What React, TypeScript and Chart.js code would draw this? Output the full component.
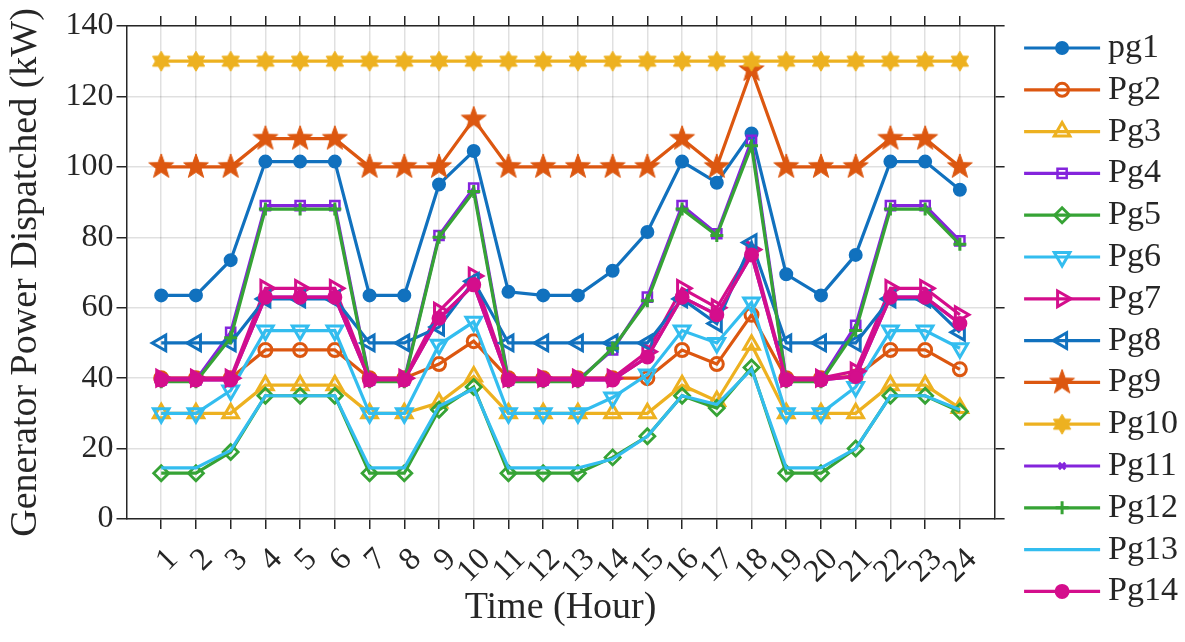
import { useEffect, useRef } from 'react';
import { Chart, registerables } from 'chart.js';
import { drawPoint } from 'chart.js/helpers';

Chart.register(...registerables);

// ---------------- data ----------------
const hours = [1, 2, 3, 4, 5, 6, 7, 8, 9, 10, 11, 12, 13, 14, 15, 16, 17, 18, 19, 20, 21, 22, 23, 24];
const yTickValues = [0, 20, 40, 60, 80, 100, 120, 140];
const seriesNames = ['pg1', 'Pg2', 'Pg3', 'Pg4', 'Pg5', 'Pg6', 'Pg7', 'Pg8', 'Pg9', 'Pg10', 'Pg11', 'Pg12', 'Pg13', 'Pg14'];

const pg1 = [63.5, 63.5, 73.5, 101.5, 101.5, 101.5, 63.5, 63.5, 95, 104.5, 64.5, 63.5, 63.5, 70.5, 81.5, 101.5, 95.5, 109.5, 69.5, 63.5, 75, 101.5, 101.5, 93.5];
const pg2 = [40, 40, 40, 48, 48, 48, 40, 40, 44, 50.5, 40, 40, 40, 40, 40, 48, 44, 58, 40, 40, 40.5, 48, 48, 42.5];
const pg3 = [30, 30, 30, 38, 38, 38, 30, 30, 33, 40.5, 30, 30, 30, 30, 30, 38, 33.5, 49.5, 30, 30, 30, 38, 38, 31.5];
const pg4 = [39.5, 39.5, 53, 89, 89, 89, 39.5, 39.5, 80.5, 94, 39.5, 39.5, 39.5, 48, 63, 89, 81, 107.5, 39.5, 39.5, 55, 89, 89, 79];
const pg5 = [13, 13, 19, 35, 35, 35, 13, 13, 31, 37.5, 13, 13, 13, 17.5, 23.5, 35, 31.5, 43, 13, 13, 20, 35, 35, 30.5];
const pg6 = [30, 30, 36.5, 53.5, 53.5, 53.5, 30, 30, 49.5, 56, 30, 30, 30, 34.5, 41, 53.5, 50, 61.5, 30, 30, 37.5, 53.5, 53.5, 48.5];
const pg7 = [40, 40, 40, 65.5, 65.5, 65.5, 40, 40, 59, 69, 40, 40, 40, 40, 47.5, 65.5, 60, 76.5, 40, 40, 42, 65.5, 65.5, 58];
const pg8 = [50, 50, 50, 62.5, 62.5, 62.5, 50, 50, 54.5, 67.5, 50, 50, 50, 50, 50, 62.5, 55.5, 78.5, 50, 50, 50, 62.5, 62.5, 53];
const pg9 = [100, 100, 100, 108, 108, 108, 100, 100, 100, 113.5, 100, 100, 100, 100, 100, 108, 100, 127.5, 100, 100, 100, 108, 108, 100];
const pg10 = [130, 130, 130, 130, 130, 130, 130, 130, 130, 130, 130, 130, 130, 130, 130, 130, 130, 130, 130, 130, 130, 130, 130, 130];
const pg11 = [39.5, 39.5, 39.5, 63, 63, 63, 39.5, 39.5, 57, 66.5, 39.5, 39.5, 39.5, 39.5, 46, 63, 58, 75, 39.5, 39.5, 40.5, 63, 63, 55.5];
const pg12 = [39, 39, 51.5, 88, 88, 88, 39, 39, 80, 93, 39, 39, 39, 48.5, 62, 88, 80.5, 106, 39, 39, 53.5, 88, 88, 78];
const pg13 = [14.5, 14.5, 19.5, 35, 35, 35, 14.5, 14.5, 32, 37, 14.5, 14.5, 14.5, 17, 23.5, 35, 32.5, 42.5, 14.5, 14.5, 20, 35, 35, 31];
const pg14 = [39.5, 39.5, 39.5, 63, 63, 63, 39.5, 39.5, 57, 66.5, 39.5, 39.5, 39.5, 39.5, 46, 63, 58, 75, 39.5, 39.5, 40.5, 63, 63, 55.5];

const seriesValues = [pg1, pg2, pg3, pg4, pg5, pg6, pg7, pg8, pg9, pg10, pg11, pg12, pg13, pg14];

// ---------------- styles ----------------
const FONT = "'Liberation Serif', 'Times New Roman', serif";
const INK = '#262626';
const GRID = 'rgba(0,0,0,0.12)';
const BLUE = '#1171BE';
const ORANGE = '#DC5710';
const YELLOW = '#EDB120';
const PURPLE = '#8424DC';
const GREEN = '#36A335';
const LBLUE = '#33BDEF';
const MAGENTA = '#D40E8C';
const NONE = 'rgba(0,0,0,0)';
const LINE_W = 3.2;

const LEG_FONT = 34;
const LEG_BOX = 78.7;

function makeStar(color: string, n: number, rOuter: number, rInner: number) {
  const pad = 2;
  const size = Math.ceil(2 * rOuter + 2 * pad);
  const c = document.createElement('canvas');
  c.width = size;
  c.height = size;
  const ctx = c.getContext('2d')!;
  ctx.translate(size / 2, size / 2);
  ctx.beginPath();
  for (let k = 0; k < 2 * n; k++) {
    const r = k % 2 === 0 ? rOuter : rInner;
    const a = -Math.PI / 2 + (k * Math.PI) / n;
    const px = Math.cos(a) * r;
    const py = Math.sin(a) * r;
    if (k === 0) ctx.moveTo(px, py);
    else ctx.lineTo(px, py);
  }
  ctx.closePath();
  ctx.fillStyle = color;
  ctx.fill();
  ctx.strokeStyle = color;
  ctx.lineWidth = 1;
  ctx.stroke();
  return c;
}

type Mk = { color: string; style: any; radius: number; fill: string; bw: number; rot: number };

function markerStyles(): Mk[] {
  return [
    { color: BLUE, style: 'circle', radius: 6, fill: BLUE, bw: 2, rot: 0 },
    { color: ORANGE, style: 'circle', radius: 6.5, fill: NONE, bw: 3, rot: 0 },
    { color: YELLOW, style: 'triangle', radius: 9, fill: NONE, bw: 3, rot: 0 },
    { color: PURPLE, style: 'rect', radius: 6.5, fill: NONE, bw: 2.5, rot: 0 },
    { color: GREEN, style: 'rectRot', radius: 7.5, fill: NONE, bw: 2.8, rot: 0 },
    { color: LBLUE, style: 'triangle', radius: 9, fill: NONE, bw: 3, rot: 180 },
    { color: MAGENTA, style: 'triangle', radius: 9, fill: NONE, bw: 3, rot: 90 },
    { color: BLUE, style: 'triangle', radius: 9, fill: NONE, bw: 3, rot: 270 },
    { color: ORANGE, style: makeStar(ORANGE, 5, 13, 5.3), radius: 13, fill: ORANGE, bw: 0, rot: 0 },
    { color: YELLOW, style: makeStar(YELLOW, 6, 10, 5.8), radius: 10, fill: YELLOW, bw: 0, rot: 0 },
    { color: PURPLE, style: 'crossRot', radius: 4.5, fill: NONE, bw: 3, rot: 0 },
    { color: GREEN, style: 'cross', radius: 6.5, fill: NONE, bw: 3, rot: 0 },
    { color: LBLUE, style: 'circle', radius: 0, fill: NONE, bw: 0, rot: 0 },
    { color: MAGENTA, style: 'circle', radius: 6.5, fill: MAGENTA, bw: 2, rot: 0 },
  ];
}

const legendMarkers = {
  id: 'legendMarkers',
  afterDraw(chart: any) {
    const lg = chart.legend;
    if (!lg || !lg.legendHitBoxes || !lg.legendItems) return;
    const ctx = chart.ctx;
    lg.legendItems.forEach((item: any, i: number) => {
      const hb = lg.legendHitBoxes[i];
      const ds = chart.data.datasets[item.datasetIndex];
      const textX = hb.left + LEG_BOX + LEG_FONT / 2;
      const y = hb.top + hb.height / 2;
      ctx.save();
      ctx.strokeStyle = ds.borderColor;
      ctx.lineWidth = LINE_W;
      ctx.beginPath();
      ctx.moveTo(textX - 84, y);
      ctx.lineTo(textX - 8, y);
      ctx.stroke();
      if (ds.pointRadius > 0) {
        ctx.fillStyle = ds.pointBackgroundColor;
        ctx.strokeStyle = ds.pointBorderColor;
        ctx.lineWidth = ds.pointBorderWidth;
        drawPoint(ctx, { pointStyle: ds.pointStyle, radius: ds.pointRadius, rotation: ds.pointRotation, borderWidth: ds.pointBorderWidth } as any, textX - 46, y);
      }
      ctx.restore();
    });
  },
};

const hourTicks = (s: any) => {
  s.ticks = hours.map((v) => ({ value: v }));
};
const yTicks = (s: any) => {
  s.ticks = yTickValues.map((v) => ({ value: v }));
};

export default function App() {
  const ref = useRef<HTMLCanvasElement | null>(null);

  useEffect(() => {
    if (!ref.current) return;
    const mks = markerStyles();
    const n = seriesNames.length;
    const datasets = seriesNames.map((name, i) => {
      const m = mks[i];
      return {
        label: name,
        data: hours.map((h, j) => ({ x: h, y: seriesValues[i][j] })),
        borderColor: m.color,
        backgroundColor: m.color,
        borderWidth: LINE_W,
        tension: 0,
        fill: false,
        pointStyle: m.style,
        pointRadius: m.radius,
        pointBackgroundColor: m.fill,
        pointBorderColor: m.color,
        pointBorderWidth: m.bw,
        pointRotation: m.rot,
        order: n - 1 - i,
        xAxisID: 'x',
        yAxisID: 'y',
      };
    });

    const chart = new Chart(ref.current, {
      type: 'line',
      data: { datasets },
      plugins: [legendMarkers],
      options: {
        animation: false,
        responsive: false,
        devicePixelRatio: 1,
        events: [],
        layout: { padding: { top: 16, right: -3, bottom: 0, left: 0 } },
        plugins: {
          tooltip: { enabled: false },
          legend: {
            position: 'right',
            align: 'start',
            title: { display: true, text: '', padding: 0, font: { size: 7.2, lineHeight: 1 } },
            labels: {
              boxWidth: LEG_BOX,
              boxHeight: 1,
              padding: 7.8,
              color: INK,
              font: { family: FONT, size: LEG_FONT },
              generateLabels: (c: any) =>
                c.data.datasets.map((ds: any, i: number) => ({
                  text: ds.label,
                  fillStyle: NONE,
                  strokeStyle: NONE,
                  lineWidth: 0,
                  hidden: false,
                  datasetIndex: i,
                  fontColor: INK,
                })),
            },
          },
        },
        scales: {
          x: {
            type: 'linear',
            position: 'bottom',
            min: 0,
            max: 25,
            afterBuildTicks: hourTicks,
            afterFit: (s: any) => {
              s.height = 123;
            },
            ticks: {
              autoSkip: false,
              minRotation: 45,
              maxRotation: 45,
              padding: 12,
              labelOffset: 12,
              color: INK,
              font: { family: FONT, size: 32 },
            },
            grid: { color: GRID, lineWidth: 1.5, tickColor: INK, tickLength: 10, tickWidth: 1.5 },
            border: { color: INK, width: 1.5 },
            title: {
              display: true,
              text: 'Time (Hour)',
              color: INK,
              font: { family: FONT, size: 38, lineHeight: 1.2 },
              padding: { top: 0, bottom: 11 },
            },
          },
          x2: {
            type: 'linear',
            position: 'top',
            min: 0,
            max: 25,
            afterBuildTicks: hourTicks,
            ticks: { display: false },
            grid: { drawOnChartArea: false, color: INK, lineWidth: 1.5, tickLength: 10 },
            border: { color: INK, width: 1.5 },
          },
          y: {
            type: 'linear',
            position: 'left',
            min: 0,
            max: 140,
            afterBuildTicks: yTicks,
            afterFit: (s: any) => {
              s.width = 126.5;
            },
            ticks: { padding: 3, color: INK, font: { family: FONT, size: 32 } },
            grid: { color: GRID, lineWidth: 1.5, tickColor: INK, tickLength: 10, tickWidth: 1.5 },
            border: { color: INK, width: 1.5 },
            title: {
              display: true,
              text: 'Generator Power Dispatched (kW)',
              color: INK,
              font: { family: FONT, size: 38, lineHeight: 1.2 },
              padding: { top: 3, bottom: 14 },
            },
          },
          y2: {
            type: 'linear',
            position: 'right',
            min: 0,
            max: 140,
            afterBuildTicks: yTicks,
            ticks: { display: false },
            grid: { drawOnChartArea: false, color: INK, lineWidth: 1.5, tickLength: 10 },
            border: { color: INK, width: 1.5 },
          },
        },
      } as any,
    });
    return () => chart.destroy();
  }, []);

  return (
    <div style={{ position: 'fixed', left: 0, top: 0, width: 1185, height: 642, background: '#fff' }}>
      <canvas ref={ref} width={1185} height={642} style={{ display: 'block', width: 1185, height: 642 }} />
    </div>
  );
}
